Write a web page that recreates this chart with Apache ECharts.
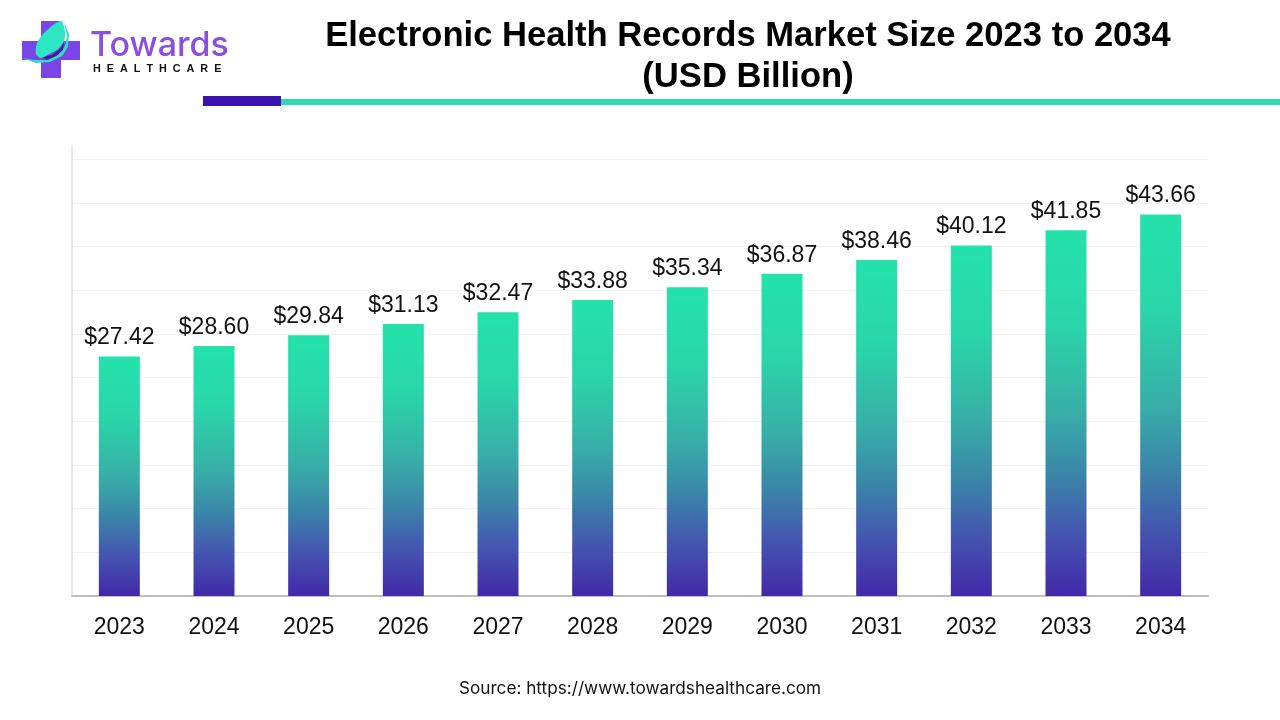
<!DOCTYPE html>
<html>
<head>
<meta charset="utf-8">
<title>Electronic Health Records Market Size</title>
<script src="https://cdn.jsdelivr.net/npm/echarts@6/dist/echarts.min.js"></script>
<style>
  html, body { margin: 0; padding: 0; background: #fff; }
  #main { width: 1280px; height: 720px; }
</style>
</head>
<body>
<div id="main"></div>
<script>
var years = ['2023', '2024', '2025', '2026', '2027', '2028', '2029', '2030', '2031', '2032', '2033', '2034'];
var marketSize = [27.42, 28.60, 29.84, 31.13, 32.47, 33.88, 35.34, 36.87, 38.46, 40.12, 41.85, 43.66];

var font = '"Liberation Sans", Arial, sans-serif';
var myChart = echarts.init(document.getElementById('main'));

var option = {
  backgroundColor: '#fff',
  animation: false,
  title: {
    text: 'Electronic Health Records Market Size 2023 to 2034\n(USD Billion)',
    left: 743,
    top: 11,
    textAlign: 'center',
    textStyle: { fontFamily: font, fontSize: 34.6, fontWeight: 'bold', color: '#000', lineHeight: 41 }
  },
  grid: { left: 72, right: 72, top: 146, bottom: 124 },
  xAxis: {
    type: 'category',
    data: years,
    axisTick: { show: false },
    axisLine: { lineStyle: { color: '#bfbfbf', width: 2 } },
    axisLabel: { fontFamily: font, fontSize: 23, color: '#111', margin: 20 }
  },
  yAxis: {
    type: 'value',
    min: 0,
    max: 51.5,
    interval: 5,
    axisLabel: { show: false },
    axisTick: { show: false },
    axisLine: { show: true, lineStyle: { color: '#e8e8e8', width: 2 } },
    splitLine: { show: true, showMaxLine: false, lineStyle: { color: '#f2f2f2', width: 1 } }
  },
  series: [{
    type: 'bar',
    data: marketSize,
    barWidth: 41,
    itemStyle: {
      color: new echarts.graphic.LinearGradient(0, 0, 0, 1, [
        { offset: 0, color: '#24e2ac' },
        { offset: 0.25, color: '#2ad6a9' },
        { offset: 0.5, color: '#38aea8' },
        { offset: 0.67, color: '#3a85a8' },
        { offset: 0.82, color: '#4458b0' },
        { offset: 1, color: '#4328a8' }
      ])
    },
    label: {
      show: true,
      position: 'top',
      distance: 7,
      fontFamily: font,
      fontSize: 23,
      color: '#111',
      formatter: function (p) { return '$' + p.value.toFixed(2); }
    }
  }],
  graphic: [
    // header rule
    { type: 'rect', shape: { x: 281, y: 99, width: 999, height: 6 }, style: { fill: '#2ed8b0' } },
    { type: 'rect', shape: { x: 203, y: 96, width: 78, height: 10 }, style: { fill: '#3a14b0' } },
    // logo
    { type: 'rect', shape: { x: 41, y: 21, width: 20, height: 57 }, style: { fill: '#7a45e6' } },
    { type: 'rect', shape: { x: 22, y: 41, width: 58, height: 19 }, style: { fill: '#7a45e6' } },
    { type: 'polygon', shape: { points: [[22, 58], [34, 60], [48, 60], [58, 55], [65, 46], [67, 36], [64, 22], [69, 34], [68, 47], [62, 56], [50, 62], [36, 63]] }, style: { fill: '#2fe0c0' } },
    { type: 'polygon', shape: { points: [[42, 57], [52, 55], [60, 49], [64, 42], [63, 50], [56, 56], [46, 60]] }, style: { fill: '#35209a' } },
    { type: 'polygon', shape: { points: [[61, 21], [65, 32], [64, 41], [58, 49], [49, 54], [41, 58], [36, 54], [37, 43], [45, 32]], smooth: 0.3 }, style: { fill: '#2fe6c4' } },
    { type: 'text', style: { x: 90, y: 29, text: 'Towards', fontFamily: '"Inter", sans-serif', fontSize: 34, fontWeight: 500, fill: '#8a4fe0' } },
    { type: 'text', style: { x: 93, y: 64, text: 'H  E  A  L  T  H  C  A  R  E', fontFamily: font, fontSize: 10.8, fontWeight: 'bold', fill: '#111' } },
    // source
    { type: 'text', style: { x: 640, y: 680, text: 'Source: https://www.towardshealthcare.com', align: 'center', fontFamily: '"Inter", sans-serif', fontSize: 17.2, fill: '#111' } }
  ]
};

myChart.setOption(option);
</script>
</body>
</html>
